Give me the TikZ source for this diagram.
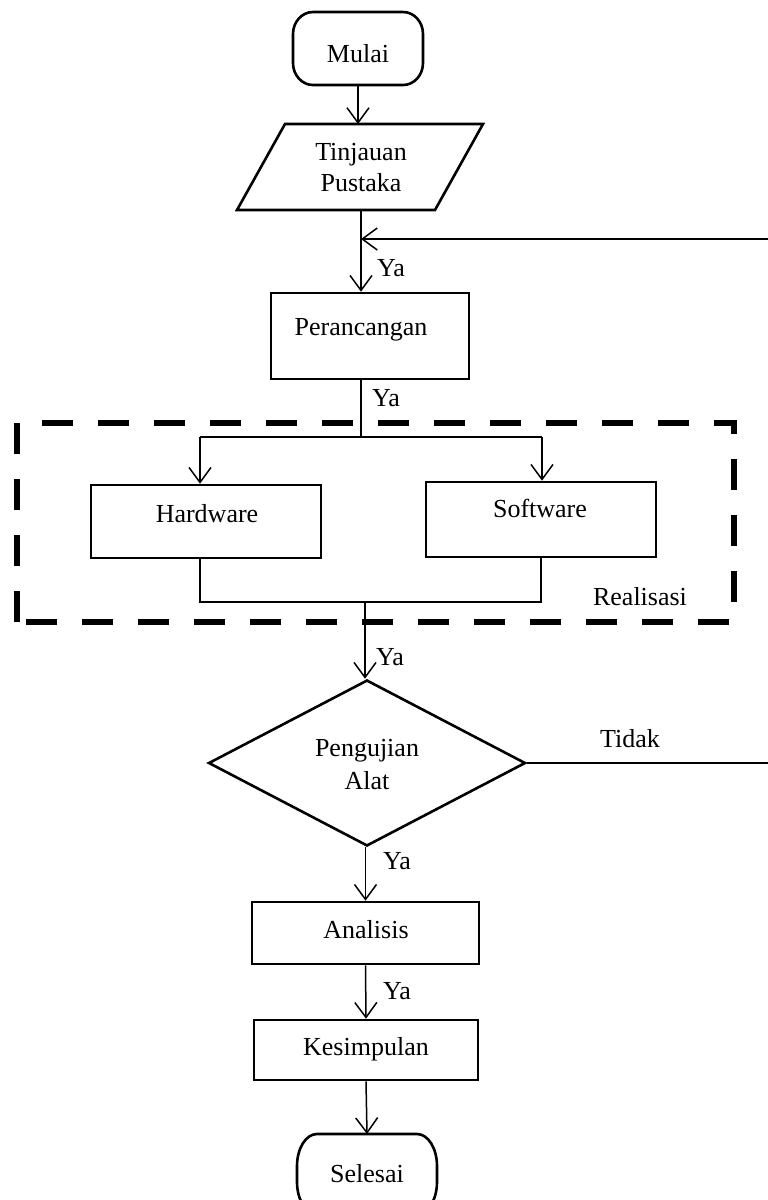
\documentclass[tikz,border=0pt]{standalone}
\usepackage{fontspec}
\setmainfont{Liberation Serif}
\usetikzlibrary{shapes.geometric,arrows.meta}
\begin{document}
\begin{tikzpicture}[x=1pt,y=-1pt,
  every node/.style={font=\fontsize{26}{31}\selectfont, inner sep=0pt},
  box/.style={draw, line width=2.6pt, rectangle, inner sep=0pt},
  holder/.style={rectangle, inner sep=0pt, outer sep=1.3pt},
  outline/.style={line width=2.6pt, line join=miter},
  conn/.style={line width=1.5pt},
  arr/.style={conn, -{Straight Barb[length=15pt,width=22pt]}},
  txt/.style={anchor=base},
  mtxt/.style={anchor=center, align=center},
  lbl/.style={anchor=base west},
  realbox/.style={line width=5.5pt, dash pattern=on 31pt off 25pt}
]
\useasboundingbox (0,0) rectangle (768,1200);
\clip (0,0) rectangle (768,1200);

% Mulai (terminal)
\node[holder, minimum width=127.4pt, minimum height=70.4pt] (mulai) at (358,48.5) {};
\draw[outline]
  ([xshift=20pt]mulai.north west) -- ([xshift=-20pt]mulai.north east)
  arc[start angle=90, end angle=0, x radius=20pt, y radius=22pt]
  -- ([yshift=22pt]mulai.south east)
  arc[start angle=0, end angle=-90, x radius=20pt, y radius=22pt]
  -- ([xshift=20pt]mulai.south west)
  arc[start angle=270, end angle=180, x radius=20pt, y radius=22pt]
  -- ([yshift=-22pt]mulai.north west)
  arc[start angle=180, end angle=90, x radius=20pt, y radius=22pt] -- cycle;
\node[txt] (tmulai) at (358,62) {Mulai};

% Tinjauan Pustaka (parallelogram)
\node[holder, minimum width=243.4pt, minimum height=83.4pt] (tin) at (360,167) {};
\draw[outline]
  ([xshift=48pt]tin.north west) -- (tin.north east) -- ([xshift=-48pt]tin.south east) -- (tin.south west) -- cycle;
\node[mtxt] (ttin) at (361,167.5) {Tinjauan\\Pustaka};

\node[box, minimum width=198pt, minimum height=86pt] (per) at (370,336) {};
\node[txt] (tper) at (361,335) {Perancangan};

\node[box, minimum width=230pt, minimum height=73pt] (hw) at (206,521.5) {};
\node[txt] (thw) at (207,522) {Hardware};

\node[box, minimum width=230pt, minimum height=75pt] (sw) at (541,519.5) {};
\node[txt] (tsw) at (540,517) {Software};

% Realisasi frame
\draw[realbox, dash phase=31pt] (17,423) -- (734,423) -- (734,622) -- (17,622);
\draw[realbox] (17,423) -- (17,622);
\node[txt] (treal) at (640,605) {Realisasi};

\node[draw, diamond, line width=2.6pt, minimum width=317pt, minimum height=166pt] (dia) at (367,763) {};
\node[mtxt, font=\fontsize{26}{33}\selectfont] (tdia) at (367,764.5) {Pengujian\\Alat};

\node[box, minimum width=227pt, minimum height=62pt] (ana) at (365.5,933) {};
\node[txt] (tana) at (366,938) {Analisis};

\node[box, minimum width=224pt, minimum height=60pt] (kes) at (366,1050) {};
\node[txt] (tkes) at (366,1055) {Kesimpulan};

% Selesai (terminal)
\node[holder, minimum width=137.4pt, minimum height=77.4pt] (sel) at (367,1174) {};
\draw[outline]
  ([xshift=20pt]sel.north west) -- ([xshift=-20pt]sel.north east)
  arc[start angle=90, end angle=0, x radius=20pt, y radius=32pt]
  -- ([yshift=32pt]sel.south east)
  arc[start angle=0, end angle=-90, x radius=20pt, y radius=32pt]
  -- ([xshift=20pt]sel.south west)
  arc[start angle=270, end angle=180, x radius=20pt, y radius=32pt]
  -- ([yshift=-32pt]sel.north west)
  arc[start angle=180, end angle=90, x radius=20pt, y radius=32pt] -- cycle;
\node[txt] (tsel) at (367,1182) {Selesai};

% labels
\node[lbl] (ya1) at (377,276) {Ya};
\node[lbl] (ya2) at (372,406) {Ya};
\node[lbl] (ya3) at (376,665) {Ya};
\node[lbl] (ya4) at (383,869) {Ya};
\node[lbl] (ya5) at (383,999) {Ya};
\node[txt] (tidak) at (630,747) {Tidak};

% coordinates
\coordinate (j1) at (361,239);
\coordinate (c1) at (361,437);
\coordinate (bl) at (200,437);
\coordinate (brr) at (542,437);
\coordinate (ml) at (200,602);
\coordinate (mr) at (541,602);
\coordinate (mc) at (365,602);
\coordinate (far) at (772,763);

% connectors
\draw[arr] (mulai.south) -- (mulai.south |- tin.north);
\draw[arr] (tin.south -| j1) -- (j1 |- per.north);
\draw[arr] (dia.east) -- (far) |- (j1);
\draw[conn] (per.south -| c1) -- (c1);
\draw[conn] (bl) -- (brr);
\draw[arr] (bl) -- (bl |- hw.north);
\draw[arr] (brr) -- (brr |- sw.north);
\draw[conn] (hw.south -| ml) -- (ml) -- (mr) -- (sw.south -| mr);
\draw[arr] (mc) -- (mc |- dia.north);
\draw[arr] (dia.south -| ana.north) -- (ana.north);
\draw[arr] (ana.south) -- (kes.north);
\draw[arr] (kes.south) -- (sel.north);
\end{tikzpicture}
\end{document}
